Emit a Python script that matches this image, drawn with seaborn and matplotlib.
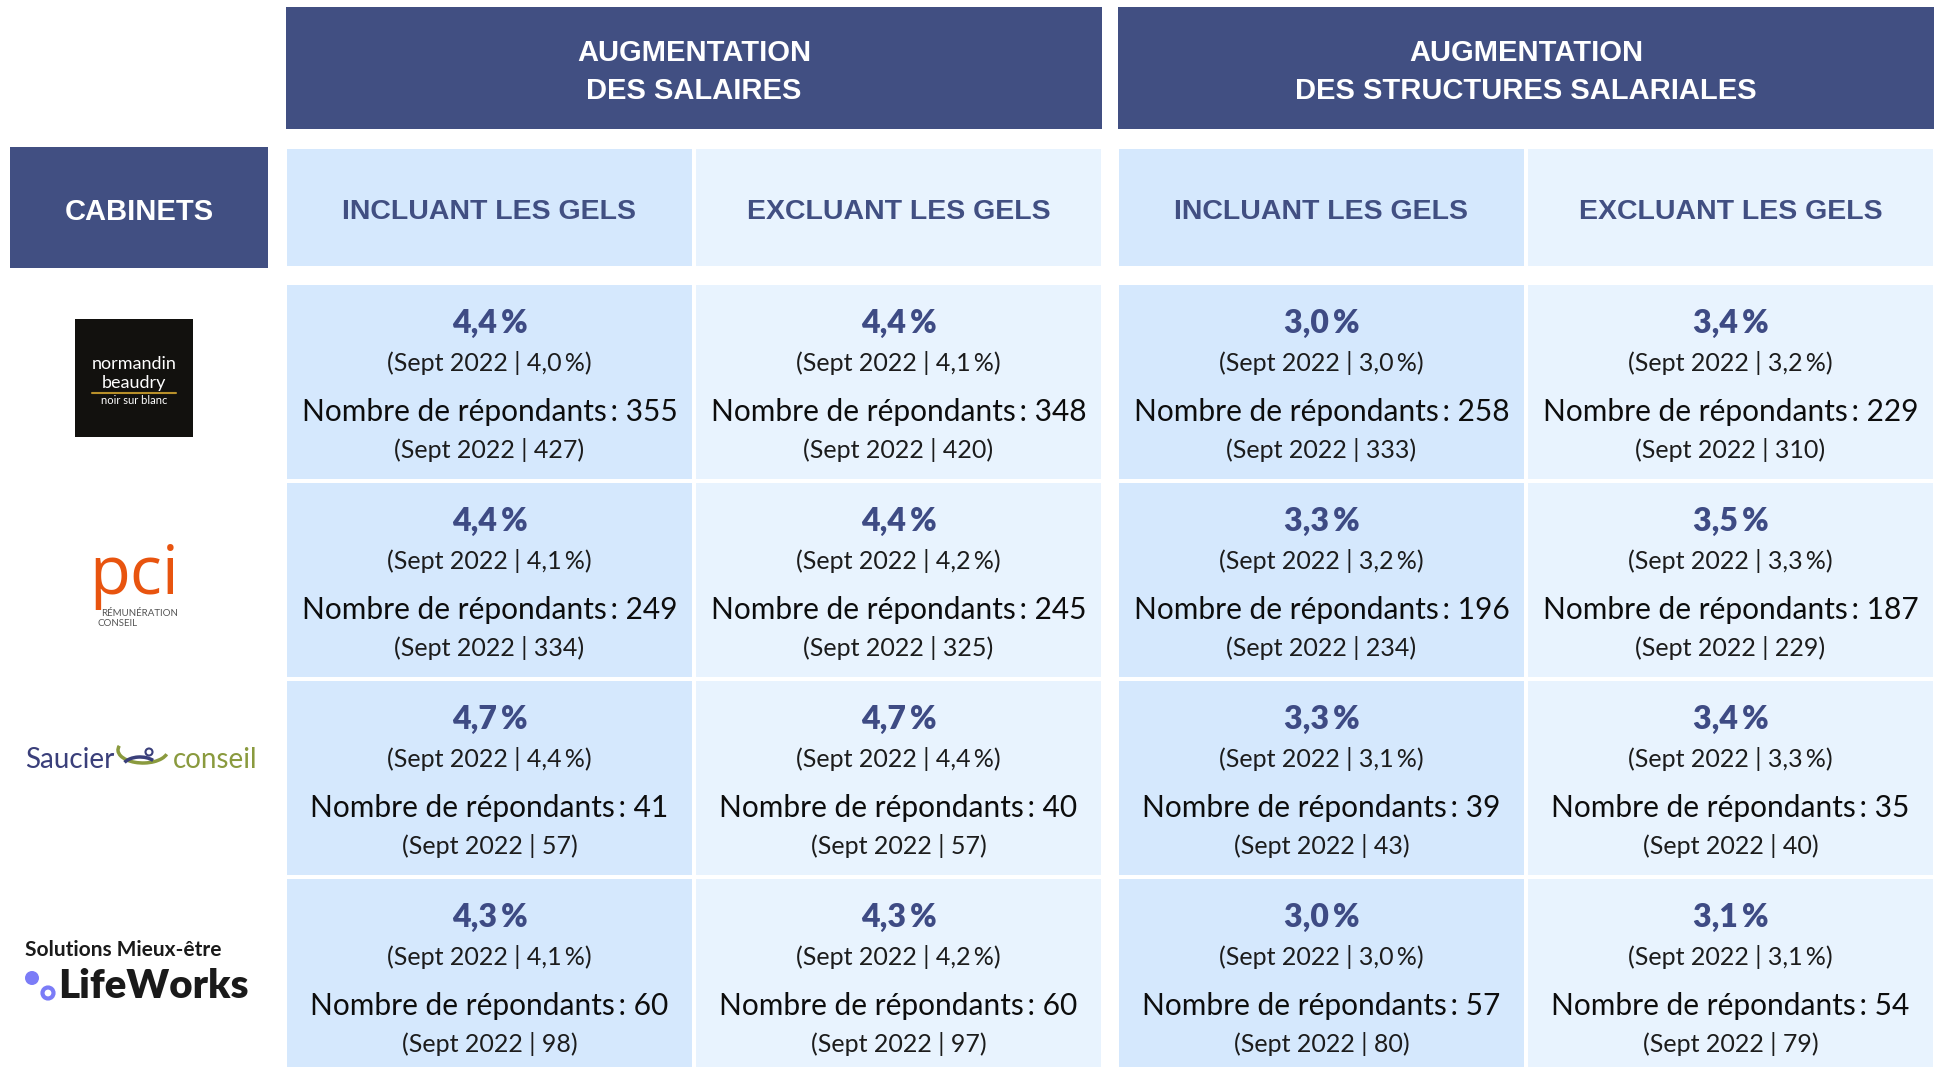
import numpy as np
import seaborn as sns
import matplotlib
matplotlib.use("Agg")
from matplotlib import pyplot as plt
from matplotlib.colors import ListedColormap
from matplotlib.patches import Rectangle, Circle, Arc


cabinets = ["Normandin Beaudry", "PCI", "Saucier conseil", "LifeWorks"]
groups = ["AUGMENTATION\nDES SALAIRES", "AUGMENTATION\nDES STRUCTURES SALARIALES"]
subheaders = ["INCLUANT LES GELS", "EXCLUANT LES GELS"]

# salaires - incluant / excluant les gels
sal_incl = [4.4, 4.4, 4.7, 4.3]
sal_incl_prev = [4.0, 4.1, 4.4, 4.1]
sal_incl_n = [355, 249, 41, 60]
sal_incl_n_prev = [427, 334, 57, 98]
sal_excl = [4.4, 4.4, 4.7, 4.3]
sal_excl_prev = [4.1, 4.2, 4.4, 4.2]
sal_excl_n = [348, 245, 40, 60]
sal_excl_n_prev = [420, 325, 57, 97]

# structures salariales - incluant / excluant les gels
str_incl = [3.0, 3.3, 3.3, 3.0]
str_incl_prev = [3.0, 3.2, 3.1, 3.0]
str_incl_n = [258, 196, 39, 57]
str_incl_n_prev = [333, 234, 43, 80]
str_excl = [3.4, 3.5, 3.4, 3.1]
str_excl_prev = [3.2, 3.3, 3.3, 3.1]
str_excl_n = [229, 187, 35, 54]
str_excl_n_prev = [310, 229, 40, 79]

NAVY = "#414f82"
PCT = "#3e4b84"
LIGHT_A = "#d5e8fd"
LIGHT_B = "#e8f3fe"

sns.set_theme(style="white")
plt.rcParams["font.family"] = ["Lato", "DejaVu Sans"]
HEAD_FONT = ["Liberation Sans", "DejaVu Sans"]

W, H = 1939, 1067
fig = plt.figure(figsize=(W / 100, H / 100), dpi=100)


def px_axes(x0, y0, x1, y1):
    return fig.add_axes([x0 / W, 1 - y1 / H, (x1 - x0) / W, (y1 - y0) / H])


def pct(v):
    return f"{v:.1f}".replace(".", ",") + "\u2009%"


bg = fig.add_axes([0, 0, 1, 1])
bg.set_xlim(0, W)
bg.set_ylim(H, 0)
bg.axis("off")

# top group headers
group_x = [(286, 1102), (1118, 1934)]
for (x0, x1), label in zip(group_x, groups):
    bg.add_patch(Rectangle((x0, 7), x1 - x0, 122, color=NAVY, lw=0))
    bg.text((x0 + x1) / 2, 72, label, ha="center", va="center", color="white",
            fontsize=21, fontweight="bold", family=HEAD_FONT, linespacing=1.45)

# cabinets header
bg.add_patch(Rectangle((10, 147), 258, 121, color=NAVY, lw=0))
bg.text(139, 212, "CABINETS", ha="center", va="center", color="white",
        fontsize=21, fontweight="bold", family=HEAD_FONT)

cmap = ListedColormap([LIGHT_A, LIGHT_B])
col_sets = [
    [(sal_incl, sal_incl_prev, sal_incl_n, sal_incl_n_prev),
     (sal_excl, sal_excl_prev, sal_excl_n, sal_excl_n_prev)],
    [(str_incl, str_incl_prev, str_incl_n, str_incl_n_prev),
     (str_excl, str_excl_prev, str_excl_n, str_excl_n_prev)],
]

for (x0, x1), cols in zip(group_x, col_sets):
    # sub headers
    sh = px_axes(x0 - 1, 147, x1 + 1, 268)
    sns.heatmap(np.array([[0, 1]]), cmap=cmap, vmin=0, vmax=1, cbar=False,
                linewidths=1.5, linecolor="white", xticklabels=False,
                yticklabels=False, ax=sh)
    sh.axis("off")
    for j, s in enumerate(subheaders):
        sh.text(j + 0.5, 0.54, s, ha="center", va="center", color=NAVY,
                fontsize=20.5, fontweight="bold", family=HEAD_FONT)

    # data cells
    ax = px_axes(x0 - 1, 283, x1 + 1, 283 + 4 * 198)
    grid = np.tile([0, 1], (len(cabinets), 1))
    sns.heatmap(grid, cmap=cmap, vmin=0, vmax=1, cbar=False,
                linewidths=1.5, linecolor="white", xticklabels=False,
                yticklabels=False, ax=ax)
    ax.axis("off")
    for j, (v, vp, n, np_) in enumerate(cols):
        for i in range(len(cabinets)):
            ax.text(j + 0.5, i + 0.205, pct(v[i]), ha="center", va="center",
                    color=PCT, fontsize=23, fontweight="heavy")
            ax.text(j + 0.5, i + 0.405, f"(Sept 2022 | {pct(vp[i])})",
                    ha="center", va="center", color="#1c1c1c", fontsize=18)
            ax.text(j + 0.5, i + 0.65, f"Nombre de répondants\u2009: {n[i]}",
                    ha="center", va="center", color="#0d0d0d", fontsize=21.5)
            ax.text(j + 0.5, i + 0.845, f"(Sept 2022 | {np_[i]})",
                    ha="center", va="center", color="#1c1c1c", fontsize=18)

# logos (approximations)
bg.add_patch(Rectangle((75, 319), 118, 118, color="#12110e", lw=0))
bg.text(134, 364, "normandin", ha="center", va="center", color="white", fontsize=13)
bg.text(134, 383, "beaudry", ha="center", va="center", color="white", fontsize=13)
bg.plot([92, 176], [393, 393], color="#b8902a", lw=1.5)
bg.text(134, 401, "noir sur blanc", ha="center", va="center", color="white", fontsize=8)

bg.text(134, 576, "pci", ha="center", va="center", color="#e8540f",
        fontsize=48, family=["Open Sans", "DejaVu Sans"])
bg.text(140, 613, "RÉMUNÉRATION", ha="center", va="center", color="#555555", fontsize=7)
bg.text(97, 623, "CONSEIL", ha="left", va="center", color="#555555", fontsize=7)

bg.text(25, 760, "Saucier", ha="left", va="center", color="#3a3f7a", fontsize=20)
bg.add_patch(Arc((143, 750), 50, 26, theta1=10, theta2=190, color="#8a9a3e", lw=2.5))
bg.add_patch(Arc((140, 768), 36, 22, theta1=200, theta2=330, color="#3a3f7a", lw=2.5))
bg.add_patch(Circle((149, 752), 3.5, fill=False, ec="#3a3f7a", lw=1.5))
bg.text(257, 760, "conseil", ha="right", va="center", color="#8a9a3e", fontsize=20)

bg.text(25, 950, "Solutions Mieux-être", ha="left", va="center", color="#1a1a1a",
        fontsize=15, fontweight="bold")
bg.add_patch(Circle((32, 978), 7, color="#7b7cf7", lw=0))
bg.add_patch(Circle((48, 993), 5.5, fill=False, ec="#7b7cf7", lw=3))
bg.text(58, 987, "LifeWorks", ha="left", va="center", color="#1a1a1a",
        fontsize=29, fontweight="heavy")

fig.savefig("out.png", dpi=100)
